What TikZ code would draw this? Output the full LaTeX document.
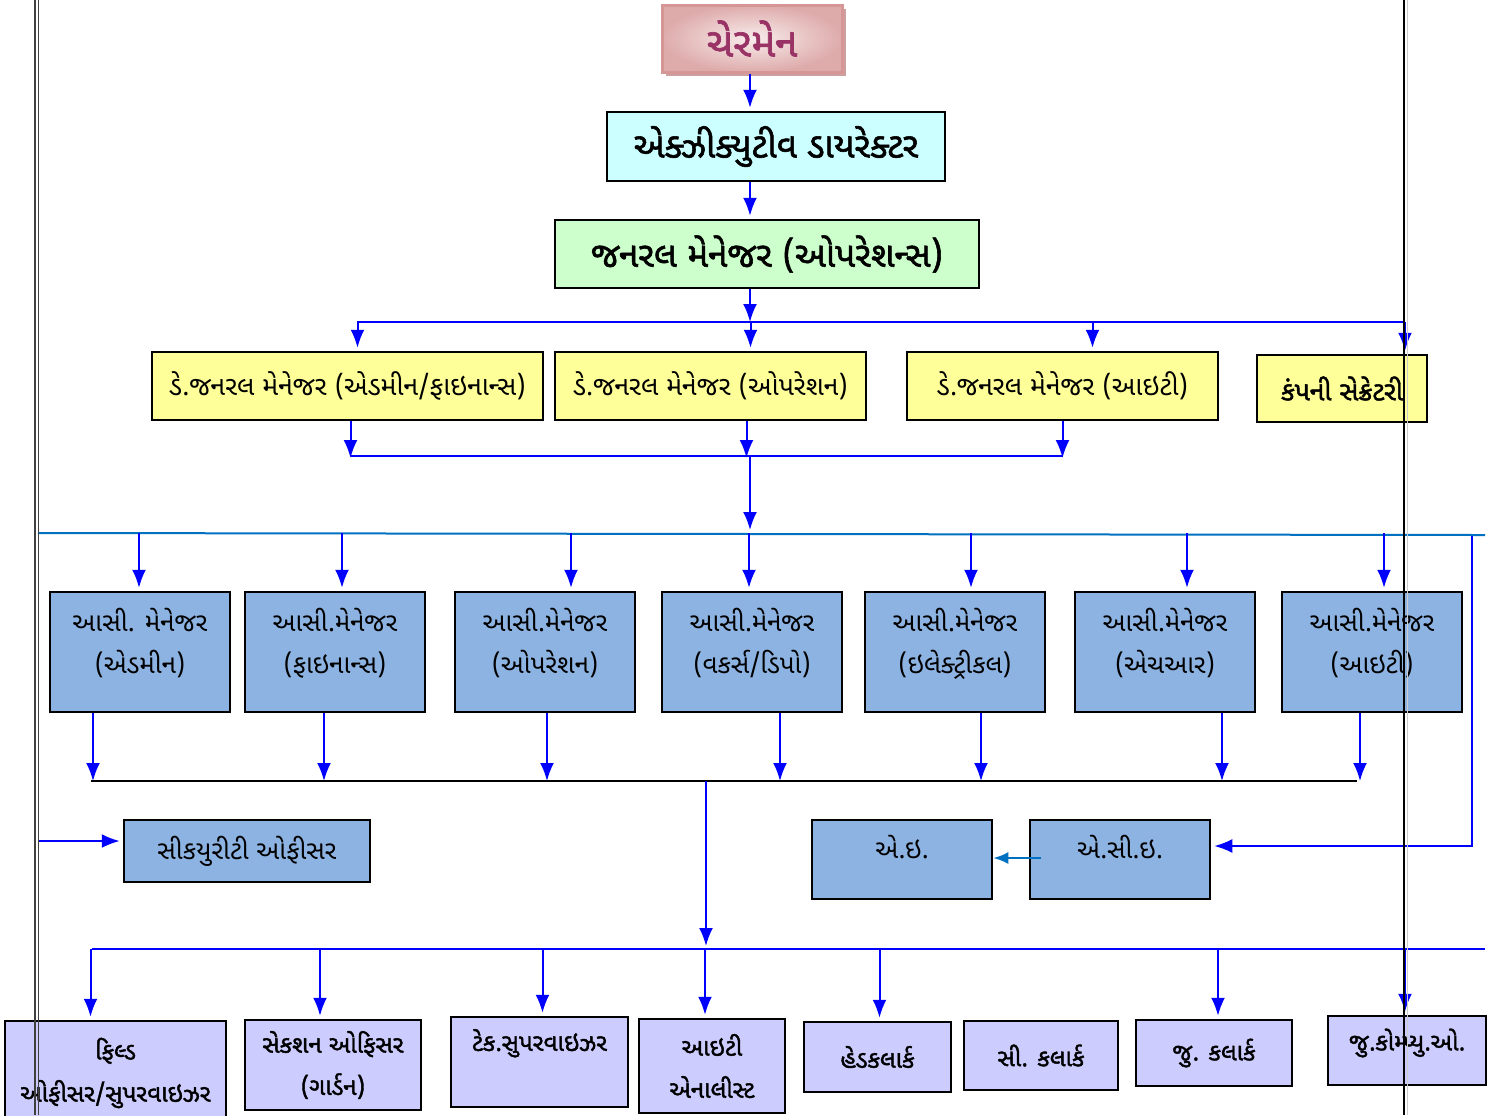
\documentclass[tikz,border=0pt]{standalone}
\usepackage{fontspec}
\newfontfamily\guj[Script=Gujarati]{Noto Sans Gujarati UI}
\newfontfamily\gujb[Script=Gujarati,FakeBold=1.6]{Noto Sans Gujarati UI}
\usepackage{tikz}
\usetikzlibrary{arrows.meta}
\usetikzlibrary{shadows}
\definecolor{linkblue}{RGB}{0,0,255}
\definecolor{busblue}{RGB}{0,112,192}
\definecolor{chairfill}{RGB}{244,224,224}
\definecolor{chairedge}{RGB}{214,150,150}
\definecolor{chairtext}{RGB}{153,51,102}
\definecolor{edfill}{RGB}{204,255,255}
\definecolor{gmfill}{RGB}{204,255,204}
\definecolor{dgmfill}{RGB}{255,255,153}
\definecolor{amfill}{RGB}{141,179,226}
\definecolor{stafffill}{RGB}{204,204,255}

\begin{document}
\begin{tikzpicture}
    [
    x=0.1mm,y=-0.1mm,
    box/.style={draw=black,line width=0.25mm,inner sep=0pt,align=center},
    chair/.style={draw=chairedge,line width=0.3mm,inner sep=0pt,inner color=chairfill!60,outer color=chairedge!80,
      drop shadow={shadow xshift=0.35mm,shadow yshift=-0.35mm,fill=chairedge!90!black,opacity=0.8},
      minimum width=18mm,minimum height=6.7mm,font=\gujb\fontsize{11.5}{13}\selectfont,text=chairtext},
    topbox/.style={box,font=\gujb\fontsize{10}{12}\selectfont},
    dgmbox/.style={box,fill=dgmfill,minimum height=6.8mm,font=\guj\fontsize{7.6}{10}\selectfont},
    ambox/.style={box,fill=amfill,minimum width=18mm,minimum height=12mm,text depth=2.3mm,
      font=\guj\fontsize{7.4}{12}\selectfont},
    staffbox/.style={box,fill=stafffill,font=\gujb\fontsize{6.9}{12}\selectfont},
    link/.style={draw=linkblue,line width=0.2mm,-{Latex[length=1.8mm,width=1.4mm]},shorten >=0.3mm},
    bus/.style={draw=linkblue,line width=0.2mm},
    ]
    \useasboundingbox (0,0) rectangle (1502,1115);

    \node (chair) at (752,38.5) [chair] {ચેરમેન};
    \node (ed) at (776,146.5) [topbox,fill=edfill,minimum width=33.8mm,minimum height=6.9mm] {એક્ઝીક્યુટીવ ડાયરેક્ટર};
    \node (gm) at (767,254) [topbox,fill=gmfill,minimum width=42.4mm,minimum height=6.8mm] {જનરલ મેનેજર (ઓપરેશન્સ)};

    \node (dgm1) at (347.5,386) [dgmbox,minimum width=39.1mm] {ડે.જનરલ મેનેજર (એડમીન/ફાઇનાન્સ)};
    \node (dgm2) at (710.5,386) [dgmbox,minimum width=31.1mm] {ડે.જનરલ મેનેજર (ઓપરેશન)};
    \node (dgm3) at (1062.5,386) [dgmbox,minimum width=31.1mm] {ડે.જનરલ મેનેજર (આઇટી)};
    \node (cs) at (1342,388.5) [dgmbox,minimum width=17mm,minimum height=6.7mm,font=\gujb\fontsize{7.6}{10}\selectfont] {કંપની સેક્રેટરી};

    \node (am1) at (140,652) [ambox] {આસી. મેનેજર\\(એડમીન)};
    \node (am2) at (335,652) [ambox] {આસી.મેનેજર\\(ફાઇનાન્સ)};
    \node (am3) at (545,652) [ambox] {આસી.મેનેજર\\(ઓપરેશન)};
    \node (am4) at (752,652) [ambox] {આસી.મેનેજર\\(વકર્સ/ડિપો)};
    \node (am5) at (955,652) [ambox] {આસી.મેનેજર\\(ઇલેક્ટ્રીકલ)};
    \node (am6) at (1165,652) [ambox] {આસી.મેનેજર\\(એચઆર)};
    \node (am7) at (1372,652) [ambox] {આસી.મેનેજર\\(આઇટી)};

    \node (sec) at (247,851) [ambox,minimum width=24.6mm,minimum height=6.2mm,text depth=]{સીકયુરીટી ઓફીસર};
    \node (ae) at (902,859.5) [ambox,minimum height=7.9mm,text depth=2.5mm] {એ.ઇ.};
    \node (ase) at (1120,859.5) [ambox,minimum height=7.9mm,text depth=2.5mm] {એ.સી.ઇ.};

    \node (b1) at (115.5,1073) [staffbox,minimum width=22.1mm,minimum height=10.4mm] {ફિલ્ડ\\ઓફીસર/સુપરવાઇઝર};
    \node (b2) at (333,1065) [staffbox,minimum width=17.6mm,minimum height=9mm] {સેકશન ઓફિસર\\(ગાર્ડન)};
    \node (b3) at (539.5,1062) [staffbox,minimum width=17.7mm,minimum height=9mm,text depth=4.4mm] {ટેક.સુપરવાઇઝર};
    \node (b4) at (712,1066) [staffbox,minimum width=14.6mm,minimum height=9.4mm] {આઇટી\\એનાલીસ્ટ};
    \node (b5) at (877.5,1057) [staffbox,minimum width=14.7mm,minimum height=7mm] {હેડકલાર્ક};
    \node (b6) at (1041,1055.5) [staffbox,minimum width=15.4mm,minimum height=6.9mm] {સી. કલાર્ક};
    \node (b7) at (1214,1053) [staffbox,minimum width=15.6mm,minimum height=6.6mm] {જુ. કલાર્ક};
    \node (b8) at (1407,1050.5) [staffbox,minimum width=15.8mm,minimum height=6.9mm,text depth=2.2mm] {જુ.કોમ્પ્યુ.ઓ.};

    \coordinate (spine) at (750,0);
    \coordinate (bus1) at (357,322);
    \coordinate (bus1e) at (1405,322);
    \coordinate (bus2) at (351,456);
    \coordinate (bus2e) at (1063,456);
    \coordinate (bus3) at (38,533);
    \coordinate (bus3e) at (1485,535);
    \coordinate (bus4) at (91,781);
    \coordinate (bus4e) at (1357,781);
    \coordinate (bus5) at (92,949);
    \coordinate (bus5e) at (1485,949);
    \coordinate (secin) at (38,841);
    \coordinate (asefeed) at (1472,536);

    \draw [link] (spine |- chair.south) -- (spine |- ed.north);
    \draw [link] (spine |- ed.south) -- (spine |- gm.north);
    \draw [link,shorten >=0pt] (spine |- gm.south) -- (spine |- bus1);
    \draw [bus] (bus1) -- (bus1e);
    \foreach \n/\dx in {dgm1/10,dgm2/40,dgm3/30,cs/63}
      \draw [link] ([xshift=\dx*0.1mm]\n.north |- bus1) -- ([xshift=\dx*0.1mm]\n.north);

    \foreach \n/\dx in {dgm1/3,dgm2/36,dgm3/0}
      \draw [link,shorten >=-0.2mm] ([xshift=\dx*0.1mm]\n.south) -- ([xshift=\dx*0.1mm]\n.south |- bus2);
    \draw [bus] (bus2) -- (bus2e);
    \draw [link] (spine |- bus2) -- (spine |- bus3);

    \draw [draw=busblue,line width=0.2mm] (bus3) -- (bus3e);
    \foreach \n/\dx in {am1/-1,am2/7,am3/26,am4/-3,am5/16,am6/22,am7/12}
      \draw [link] ([xshift=\dx*0.1mm]\n.north |- bus3) -- ([xshift=\dx*0.1mm]\n.north);

    \foreach \n/\dx in {am1/-47,am2/-11,am3/2,am4/28,am5/26,am6/57,am7/-12}
      \draw [link,shorten >=0pt] ([xshift=\dx*0.1mm]\n.south) -- ([xshift=\dx*0.1mm]\n.south |- bus4);
    \draw [line width=0.25mm] (bus4) -- (bus4e);

    \draw [link] (secin) -- (secin -| sec.west);
    \draw [link] (asefeed) |- ([yshift=1.35mm]ase.east);
    \draw [draw=busblue,line width=0.25mm,-{Latex[length=1.5mm,width=1.2mm]}] ([xshift=1.2mm,yshift=0.15mm]ase.west) -- ([yshift=0.15mm]ae.east);

    \draw [link] ([xshift=-0.6mm]b4.north |- bus4) -- ([xshift=-0.6mm]b4.north |- bus5);
    \draw [bus] (bus5) -- (bus5e);
    \foreach \n/\dx in {b1/-25,b2/-13,b3/3,b4/-7,b5/2,b7/4,b8/-2}
      \draw [link] ([xshift=\dx*0.1mm]\n.north |- bus5) -- ([xshift=\dx*0.1mm]\n.north);

    \draw [black!75,line width=0.15mm] (35,0) -- (35,1115);
    \draw [black!75,line width=0.15mm] (38.5,0) -- (38.5,1115);
    \draw [black,line width=0.15mm] (1404,0) -- (1404,1115);
    \draw [black!20,line width=0.15mm] (1407.5,0) -- (1407.5,1115);
  \end{tikzpicture}
\end{document}
